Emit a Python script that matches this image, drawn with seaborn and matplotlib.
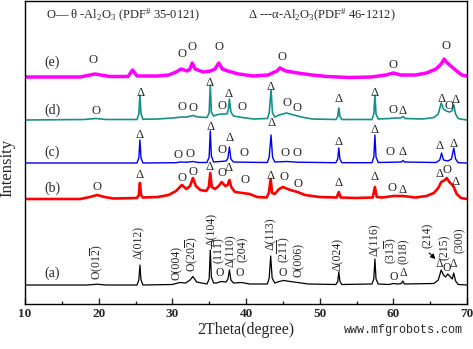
import matplotlib
matplotlib.use("Agg")
import matplotlib.pyplot as plt
from matplotlib.ticker import MultipleLocator
import seaborn as sns
import pandas as pd

# ---------------- data: (2theta, intensity above own baseline) ----------------
pattern_a = [(10, 0), (18.5, 0), (19.8, 0.8), (21, 0), (25.2, 0), (25.45, 5), (25.6, 20), (25.75, 5), (26.0, 0),
             (30.0, 0.5), (31.0, 2.5), (31.8, 2), (32.4, 5), (32.8, 8.5), (33.3, 3), (34.7, 1), (35.0, 6),
             (35.15, 35), (35.3, 8), (35.6, 2), (36.0, 2), (36.6, 3.5), (37.3, 3), (37.55, 6), (37.75, 15),
             (37.95, 5), (38.3, 2), (39.4, 2.5), (40.5, 1), (42.9, 1), (43.15, 7), (43.35, 29), (43.55, 7),
             (43.9, 2), (44.5, 3.5), (45.1, 4.5), (46.5, 3), (48.5, 1), (52.2, 0.5), (52.45, 3.5), (52.6, 13),
             (52.75, 3.5), (53.0, 0.5), (57.1, 1), (57.35, 6), (57.5, 26), (57.65, 6), (57.95, 1), (59.4, 0.5),
             (60.0, 1.5), (60.6, 1), (61.1, 1.5), (61.3, 4), (61.5, 1), (65.5, 1.5), (66.1, 5), (66.5, 15),
             (66.8, 10), (67.1, 8), (67.4, 11), (67.75, 8), (68.0, 6), (68.2, 12), (68.45, 4), (68.8, 0.5), (70, 0)]

pattern_b = [(10, 0), (17.5, 0), (18.8, 2), (19.8, 4), (20.8, 2), (22, 0.5), (25.2, 1), (25.45, 4), (25.6, 16),
             (25.75, 4), (26.0, 1.5), (28, 2), (29.5, 4), (30.5, 8), (31.3, 14), (31.9, 10), (32.4, 13),
             (32.8, 21), (33.2, 13), (33.8, 9), (34.6, 8), (34.95, 12), (35.15, 26), (35.35, 12), (35.8, 10),
             (36.3, 13), (36.7, 17), (37.2, 13), (37.5, 14), (37.75, 19), (38.0, 12), (38.5, 7), (39.5, 6),
             (40.5, 5), (41.5, 2), (42.8, 1.5), (43.1, 6), (43.35, 20), (43.55, 6), (43.9, 5), (44.5, 10),
             (45.0, 12), (46, 9), (47, 7), (48, 4), (50, 2), (52.3, 1.5), (52.6, 7), (52.85, 1.5), (55, 1),
             (57.2, 1.5), (57.5, 12), (57.75, 2), (58.5, 1.5), (60, 3), (61.3, 3), (63, 1.5), (64.5, 3),
             (65.5, 6), (66.1, 11), (66.5, 17), (67.0, 19), (67.25, 21), (67.6, 17), (67.9, 15), (68.2, 12),
             (68.6, 5), (69.2, 1), (70, 0)]

pattern_c = [(10, 0), (25.2, 0), (25.45, 5), (25.6, 23), (25.75, 5), (26.0, 0), (30.5, 0.3), (31.0, 1),
             (32.0, 0.8), (32.8, 1.5), (33.5, 0.5), (34.7, 0.5), (35.0, 6), (35.15, 32), (35.3, 7), (35.6, 1),
             (36.5, 1.5), (37.3, 2), (37.55, 5), (37.75, 16), (37.95, 4), (38.3, 1), (39.5, 0.8), (42.9, 0.5),
             (43.15, 6), (43.4, 28), (43.6, 6), (43.9, 1), (45.5, 1.5), (47, 0.8), (52.2, 0.3), (52.45, 4),
             (52.6, 15), (52.75, 4), (53.0, 0.3), (57.1, 0.3), (57.35, 6), (57.5, 28), (57.65, 6), (57.95, 0.5),
             (60, 0.8), (61.1, 1), (61.3, 2.5), (61.5, 1), (65.8, 0.5), (66.3, 3), (66.55, 10), (66.8, 3),
             (67.4, 2), (67.9, 4), (68.2, 15), (68.45, 4), (68.8, 0.3), (70, 0)]

pattern_d = [(10, 0), (18, 0.5), (19.6, 1.5), (21, 0.5), (25.2, 0.5), (25.45, 6), (25.6, 25), (25.75, 6),
             (26.0, 0.8), (28, 1), (30, 2), (31.3, 3), (32.0, 3), (32.8, 4.5), (33.5, 3), (34.7, 2.5), (35.0, 7),
             (35.15, 35), (35.3, 8), (35.6, 4), (36.2, 5.5), (36.8, 6), (37.4, 6), (37.6, 10), (37.75, 21),
             (37.95, 8), (38.3, 4), (39.5, 2.5), (41, 1), (42.9, 1.5), (43.15, 7), (43.4, 30), (43.6, 7),
             (43.9, 3), (44.5, 5), (45.5, 7), (46.5, 5), (47.5, 3), (49, 1), (52.2, 0.5), (52.45, 3.5),
             (52.6, 12), (52.75, 3.5), (53.0, 0.5), (57.1, 0.5), (57.35, 6), (57.5, 25), (57.65, 6), (57.95, 1),
             (59.5, 1.5), (60.2, 2), (61.0, 2), (61.3, 3.5), (61.6, 1.5), (64, 1), (65.5, 2.5), (66.1, 6),
             (66.5, 17), (66.8, 11), (67.2, 9), (67.6, 8), (67.95, 9), (68.2, 15), (68.45, 6), (68.8, 1.5),
             (69.5, 0.5), (70, 0)]

pattern_e = [(10, 0), (17.5, 0), (19.5, 3), (21.5, 0.5), (24.0, 0.5), (24.6, 7), (25.2, 1), (28, 1), (29.5, 2),
             (30.5, 5), (31.2, 8), (32.0, 6), (32.4, 8), (32.7, 14), (33.1, 8), (34.2, 5), (35.2, 6), (35.8, 8),
             (36.3, 14), (36.8, 8), (37.5, 6), (39, 3), (41, 1), (43, 2), (44.2, 6), (44.6, 9), (45.4, 6),
             (47, 4), (49, 2), (51, 0.5), (54, -0.5), (57, 0), (59, 2), (60.0, 4), (61.0, 2), (63, 2), (64.5, 4),
             (65.8, 8), (66.5, 13), (66.9, 18), (67.2, 15), (67.8, 11), (68.6, 6), (69.3, 2), (70, 1)]

series_names = ["(a)", "(b)", "(c)", "(d)", "(e)"]
series_patterns = [pattern_a, pattern_b, pattern_c, pattern_d, pattern_e]

# phase markers on curves b-e: (symbol, 2theta)
marks_e = [("O", 19.2), ("O", 31.3), ("O", 32.7), ("O", 36.3), ("O", 44.9), ("O", 60.0), ("O", 67.1)]
marks_d = [("O", 19.6), ("Δ", 25.7), ("O", 31.3), ("O", 32.8), ("Δ", 35.1), ("O", 36.7), ("Δ", 37.7),
           ("O", 39.5), ("Δ", 43.4), ("O", 45.5), ("O", 46.9), ("Δ", 52.6), ("Δ", 57.5), ("O", 60.0),
           ("Δ", 61.3), ("Δ", 66.6), ("O", 67.6), ("Δ", 68.5)]
marks_c = [("Δ", 25.6), ("O", 30.8), ("O", 32.4), ("Δ", 35.2), ("O", 36.7), ("Δ", 37.8), ("O", 39.7),
           ("Δ", 43.5), ("O", 45.3), ("O", 46.9), ("Δ", 52.6), ("Δ", 57.5), ("O", 59.5), ("Δ", 61.3),
           ("Δ", 66.3), ("Δ", 68.2)]
marks_b = [("O", 19.8), ("Δ", 25.5), ("O", 31.3), ("O", 32.8), ("Δ", 35.1), ("O", 36.7), ("Δ", 37.7),
           ("O", 39.9), ("Δ", 43.3), ("O", 45.2), ("O", 47.1), ("Δ", 52.5), ("Δ", 57.5), ("O", 59.8),
           ("Δ", 61.3), ("Δ", 66.3), ("O", 67.3), ("Δ", 68.4)]

# Miller-index labels on curve a (rotated)
hkl_labels = ["O(01$\\overline{2}$)", "Δ(012)", "O(004)", "O(20$\\overline{2}$)", "Δ(104)", "(11$\\overline{1}$)",
              "Δ(110)", "(204)", "Δ(113)", "(2$\\overline{1}$$\\overline{1}$)", "O(006)", "Δ(024)", "Δ(116)",
              "(31$\\overline{3}$)", "(018)", "(214)", "(215)", "(300)"]
hkl_theta = [19.8, 25.5, 30.6, 32.7, 35.4, 36.4, 38.0, 39.6, 43.3, 45.2, 47.2, 52.5, 57.5, 59.7, 61.4,
             64.7, 67.0, 69.0]
# loose symbols on curve a
marks_a = [("O", 36.5), ("O", 39.2), ("O", 45.0), ("O", 60.0), ("Δ", 61.3), ("Δ", 66.3), ("O", 67.3), ("Δ", 68.1)]

# ---------------- layout / style ----------------
baselines = [19, 105, 141, 184, 227]
colors = ["black", "#ff0000", "#0000ee", "#17908a", "#ff00ff"]
widths = [0.9, 1.9, 1.0, 1.2, 2.5]
mark_y = {"e": [244, 250, 257, 257, 247, 239, 258],
          "d": [193, 211, 197, 196, 221, 198, 210, 197, 217, 201, 196, 205, 211, 194, 193, 205, 198, 204],
          "c": [169, 149, 150, 177, 154, 166, 151, 181, 151, 151, 162, 174, 152, 152, 158, 160],
          "b": [117, 129, 126, 132, 137, 131, 136, 124, 128, 127, 120, 121, 127, 116, 114, 130, 134, 122]}
hkl_y = [41.5, 61.5, 41.5, 49.5, 74, 53, 53, 54.5, 70.5, 54, 44, 49.5, 64.5, 53.5, 53, 68.5, 57, 63.5]
marks_a_y = [31, 31, 31, 27, 31, 40, 36, 40]
label_y = [31, 116, 152, 194, 242]

sns.set_style("white")
plt.rcParams["font.family"] = ["Liberation Serif", "DejaVu Serif"]
plt.rcParams["mathtext.fontset"] = "custom"
plt.rcParams["mathtext.rm"] = "Liberation Serif"
plt.rcParams["mathtext.it"] = "Liberation Serif:italic"
plt.rcParams["mathtext.bf"] = "Liberation Serif:bold"
plt.rcParams["mathtext.default"] = "regular"

fig = plt.figure(figsize=(4.73, 3.49), dpi=100)
ax = fig.add_axes([25 / 473, 45 / 349, 442 / 473, 303 / 349])

for name, pts, base, col, lw in zip(series_names, series_patterns, baselines, colors, widths):
    df = pd.DataFrame(pts, columns=["theta", "I"])
    df["I"] = df["I"] + base
    sns.lineplot(data=df, x="theta", y="I", ax=ax, color=col, lw=lw, estimator=None, sort=False)

fs = 9
for key, marks in zip(["e", "d", "c", "b"], [marks_e, marks_d, marks_c, marks_b]):
    for (sym, th), yy in zip(marks, mark_y[key]):
        ax.text(th, yy, sym, ha="center", va="center", fontsize=fs)

for lab, th, yy in zip(hkl_labels, hkl_theta, hkl_y):
    ax.text(th, yy, lab, ha="center", va="center", rotation=90, fontsize=8.5)
for (sym, th), yy in zip(marks_a, marks_a_y):
    ax.text(th, yy, sym, ha="center", va="center", fontsize=8.5)

ax.annotate("", xy=(66.0, 43), xytext=(64.6, 53),
            arrowprops=dict(arrowstyle="-|>", color="black", lw=0.8, mutation_scale=7))

for name, yy in zip(series_names, label_y):
    ax.text(13.7, yy, name, ha="center", va="center", fontsize=10)

ax.text(12.9, 289, "O— θ -Al$_2$O$_3$ (PDF$^{\\#}$ 35-0121)", ha="left", va="center", fontsize=9)
ax.text(40.3, 289, "Δ ---α-Al$_2$O$_3$(PDF$^{\\#}$ 46-1212)", ha="left", va="center", fontsize=9)

ax.set_xlim(10, 70)
ax.set_ylim(0, 303)
ax.set_yticks([])
ax.set_xticks(range(10, 71, 10))
ax.xaxis.set_minor_locator(MultipleLocator(5))
ax.tick_params(axis="x", which="major", direction="in", length=4, width=1, pad=3, labelsize=9.5,
               bottom=True, top=False)
ax.tick_params(axis="x", which="minor", direction="in", length=2, width=1, bottom=True, top=False)
for t in ax.get_xticklabels():
    t.set_fontweight("bold")
for sp in ax.spines.values():
    sp.set_linewidth(1.0)
    sp.set_color("black")

ax.set_xlabel("2Theta(degree)", fontsize=11.5)
ax.xaxis.set_label_coords(0.5, -0.058)
ax.set_ylabel("Intensity", fontsize=12)
ax.yaxis.set_label_coords(-0.022, 0.45)

fig.text(403 / 473, 1 - 330 / 349, "www.mfgrobots.com", ha="center", va="center", fontsize=8.5,
         family="Liberation Mono")

fig.savefig("out.png", dpi=100)
